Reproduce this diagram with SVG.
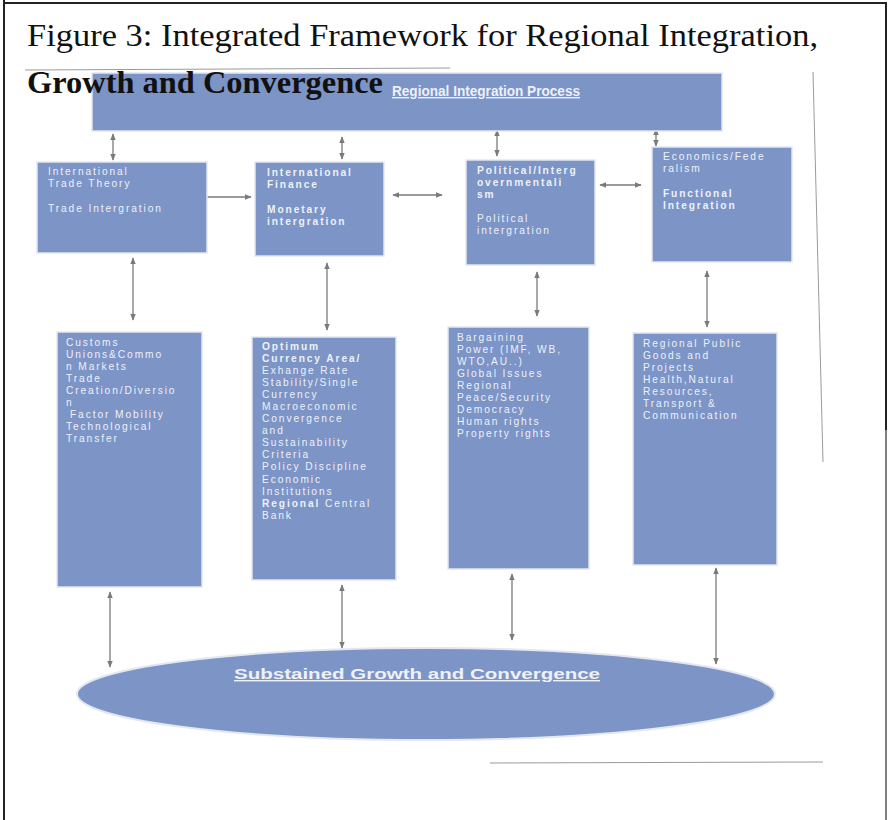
<svg xmlns="http://www.w3.org/2000/svg" width="890" height="820" viewBox="0 0 890 820">
<style>
.box{fill:#7c94c6;stroke:#e3e7ef;stroke-width:1.5}
.t{font-family:"Liberation Sans",Arial,sans-serif;font-size:10.2px;letter-spacing:1.9px;fill:#eef1f8}
.b{font-weight:bold}
.hd{font-family:"Liberation Sans",Arial,sans-serif;font-size:14px;font-weight:bold;fill:#eef1f8;text-decoration:underline}
.ttl{font-family:"Liberation Serif","Times New Roman",serif;font-size:32px;fill:#111}
.con{stroke:#7a7a7a;stroke-width:1.3;fill:none}
.frame{stroke:#222;stroke-width:2;fill:none}
.scan{stroke:#9a9a9a;stroke-width:1;fill:none}
</style>
<defs>
<marker id="ah" viewBox="0 0 10 10" refX="9" refY="5" markerWidth="7" markerHeight="7" orient="auto-start-reverse" markerUnits="userSpaceOnUse">
<path d="M0,1 L10,5 L0,9 z" fill="#7a7a7a"/>
</marker>
</defs>
<rect width="890" height="820" fill="#ffffff"/>
<g id="frame">
<line class="frame" x1="4" y1="0" x2="4" y2="820"/>
<line class="frame" x1="3" y1="3" x2="887" y2="3"/>
<line class="frame" x1="886" y1="3" x2="886" y2="430"/>
<line class="scan" x1="813" y1="72" x2="823" y2="462"/>
<line class="scan" x1="490" y1="763" x2="823" y2="762"/>
<line class="scan" x1="25" y1="70" x2="450" y2="68"/>
<line x1="886" y1="430" x2="886" y2="820" stroke="#555" stroke-width="1.5"/>
</g>
<g id="connectors">
<line class="con" x1="113" y1="134" x2="113" y2="160" marker-start="url(#ah)" marker-end="url(#ah)"/>
<line class="con" x1="342" y1="137" x2="342" y2="159" marker-start="url(#ah)" marker-end="url(#ah)"/>
<line class="con" x1="497" y1="130" x2="497" y2="156" marker-start="url(#ah)" marker-end="url(#ah)"/>
<line class="con" x1="656" y1="129" x2="656" y2="146" marker-start="url(#ah)" marker-end="url(#ah)"/>
<line class="con" x1="206" y1="197" x2="251" y2="197" marker-end="url(#ah)"/>
<line class="con" x1="393" y1="195" x2="442" y2="195" marker-start="url(#ah)" marker-end="url(#ah)"/>
<line class="con" x1="600" y1="185" x2="641" y2="185" marker-start="url(#ah)" marker-end="url(#ah)"/>
<line class="con" x1="133" y1="258" x2="133" y2="320" marker-start="url(#ah)" marker-end="url(#ah)"/>
<line class="con" x1="327" y1="263" x2="327" y2="330" marker-start="url(#ah)" marker-end="url(#ah)"/>
<line class="con" x1="537" y1="272" x2="537" y2="316" marker-start="url(#ah)" marker-end="url(#ah)"/>
<line class="con" x1="707" y1="271" x2="707" y2="327" marker-start="url(#ah)" marker-end="url(#ah)"/>
<line class="con" x1="110" y1="592" x2="110" y2="667" marker-start="url(#ah)" marker-end="url(#ah)"/>
<line class="con" x1="342" y1="585" x2="342" y2="648" marker-start="url(#ah)" marker-end="url(#ah)"/>
<line class="con" x1="512" y1="574" x2="512" y2="640" marker-start="url(#ah)" marker-end="url(#ah)"/>
<line class="con" x1="716" y1="568" x2="716" y2="664" marker-start="url(#ah)" marker-end="url(#ah)"/>
</g>
<g id="top">
<rect class="box" x="92" y="73" width="630" height="58"/>
<text class="hd" x="392" y="96" textLength="188" lengthAdjust="spacingAndGlyphs">Regional Integration Process</text>
</g>
<g id="n1">
<rect class="box" x="37" y="162" width="170" height="91"/>
<text class="t" x="48" y="175">International</text>
<text class="t" x="48" y="187">Trade Theory</text>
<text class="t" x="48" y="212">Trade Intergration</text>
</g>
<g id="n2">
<rect class="box" x="255" y="162" width="129" height="94"/>
<text class="t b" x="267" y="176">International</text>
<text class="t b" x="267" y="188">Finance</text>
<text class="t b" x="267" y="213">Monetary</text>
<text class="t b" x="267" y="225">intergration</text>
</g>
<g id="n3">
<rect class="box" x="466" y="160" width="129" height="105"/>
<text class="t b" x="477" y="174">Political/Interg</text>
<text class="t b" x="477" y="186">overnmentali</text>
<text class="t b" x="477" y="198">sm</text>
<text class="t" x="477" y="222">Political</text>
<text class="t" x="477" y="234">intergration</text>
</g>
<g id="n4">
<rect class="box" x="652" y="147" width="140" height="115"/>
<text class="t" x="663" y="160">Economics/Fede</text>
<text class="t" x="663" y="172">ralism</text>
<text class="t b" x="663" y="197">Functional</text>
<text class="t b" x="663" y="209">Integration</text>
</g>
<g id="n5">
<rect class="box" x="57" y="332" width="145" height="255"/>
<text class="t" x="66" y="346">Customs</text>
<text class="t" x="66" y="358">Unions&amp;Commo</text>
<text class="t" x="66" y="370">n Markets</text>
<text class="t" x="66" y="382">Trade</text>
<text class="t" x="66" y="394">Creation/Diversio</text>
<text class="t" x="66" y="406">n</text>
<text class="t" x="70" y="418">Factor Mobility</text>
<text class="t" x="66" y="430">Technological</text>
<text class="t" x="66" y="442">Transfer</text>
</g>
<g id="n6">
<rect class="box" x="252" y="337" width="144" height="243"/>
<text class="t b" x="262" y="350">Optimum</text>
<text class="t b" x="262" y="362">Currency Area/</text>
<text class="t" x="262" y="374">Exhange Rate</text>
<text class="t" x="262" y="386">Stability/Single</text>
<text class="t" x="262" y="398">Currency</text>
<text class="t" x="262" y="410">Macroeconomic</text>
<text class="t" x="262" y="422">Convergence</text>
<text class="t" x="262" y="434">and</text>
<text class="t" x="262" y="446">Sustainability</text>
<text class="t" x="262" y="458">Criteria</text>
<text class="t" x="262" y="470">Policy Discipline</text>
<text class="t" x="262" y="483">Economic</text>
<text class="t" x="262" y="495">Institutions</text>
<text class="t" x="262" y="507"><tspan class="b">Regional</tspan> Central</text>
<text class="t" x="262" y="519">Bank</text>
</g>
<g id="n7">
<rect class="box" x="448" y="327" width="141" height="242"/>
<text class="t" x="457" y="341">Bargaining</text>
<text class="t" x="457" y="353">Power (IMF, WB,</text>
<text class="t" x="457" y="365">WTO,AU..)</text>
<text class="t" x="457" y="377">Global  Issues</text>
<text class="t" x="457" y="389">Regional</text>
<text class="t" x="457" y="401">Peace/Security</text>
<text class="t" x="457" y="413">Democracy</text>
<text class="t" x="457" y="425">Human rights</text>
<text class="t" x="457" y="437">Property rights</text>
</g>
<g id="n8">
<rect class="box" x="633" y="333" width="144" height="232"/>
<text class="t" x="643" y="347">Regional Public</text>
<text class="t" x="643" y="359">Goods and</text>
<text class="t" x="643" y="371">Projects</text>
<text class="t" x="643" y="383">Health,Natural</text>
<text class="t" x="643" y="395">Resources,</text>
<text class="t" x="643" y="407">Transport &amp;</text>
<text class="t" x="643" y="419">Communication</text>
</g>
<g id="n9">
<ellipse cx="426" cy="694" rx="349" ry="46" fill="#7c94c6" stroke="#e3e7ef" stroke-width="2"/>
<text class="hd" x="417" y="679" text-anchor="middle" textLength="366" lengthAdjust="spacingAndGlyphs">Substained Growth and Convergence</text>
</g>
<g id="title">
<text class="ttl" x="27" y="46" textLength="791" lengthAdjust="spacingAndGlyphs">Figure 3: Integrated Framework for Regional Integration,</text>
<text class="ttl" x="27" y="93" font-weight="bold" textLength="356" lengthAdjust="spacingAndGlyphs">Growth and Convergence</text>
</g>
</svg>
